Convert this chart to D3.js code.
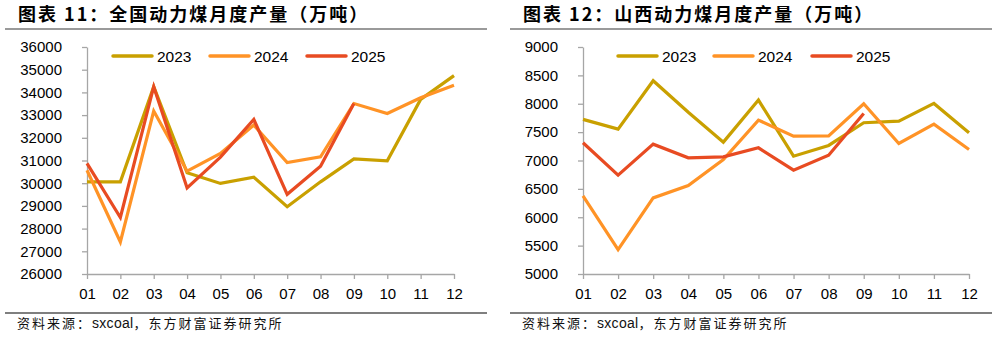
<!DOCTYPE html>
<html>
<head>
<meta charset="utf-8">
<script src="https://cdn.jsdelivr.net/npm/d3@7"></script>
<style>
  html, body { margin: 0; padding: 0; background: #fff; }
  svg { display: block; }
  .title { font-family: "Noto Sans CJK SC", sans-serif; font-weight: 700; font-size: 18px; fill: #000; }
  .source { font-family: "Noto Sans CJK SC", sans-serif; font-size: 13px; fill: #111; }
  .source .latin { font-family: "Liberation Sans", Arial, sans-serif; font-size: 14px; }
  .tick text, .legend text { font-family: "Liberation Sans", Arial, sans-serif; fill: #000; }
</style>
</head>
<body>
<svg id="chart" width="997" height="337"></svg>
<script>
// Months along the x axis
const months = ["01", "02", "03", "04", "05", "06", "07", "08", "09", "10", "11", "12"];
const seriesNames = ["2023", "2024", "2025"];
const seriesColors = ["#C9A000", "#FF9326", "#E84B22"];

// National thermal coal monthly output (10k tonnes)
const national2023 = [30060, 30060, 34250, 30460, 29990, 30260, 28960, 30060, 31070, 30990, 33690, 34740];
const national2024 = [30570, 27410, 33180, 30530, 31310, 32560, 30910, 31160, 33510, 33070, 33760, 34320];
const national2025 = [30870, 28490, 34250, 29790, 31150, 32810, 29510, 30750, 33510];
const nationalTicks = [26000, 27000, 28000, 29000, 30000, 31000, 32000, 33000, 34000, 35000, 36000];

// Shanxi thermal coal monthly output (10k tonnes)
const shanxi2023 = [7724, 7553, 8406, 7850, 7324, 8065, 7076, 7265, 7665, 7694, 8006, 7488];
const shanxi2024 = [6376, 5429, 6341, 6559, 7018, 7712, 7429, 7435, 8000, 7300, 7641, 7194];
const shanxi2025 = [7312, 6741, 7288, 7047, 7065, 7224, 6829, 7094, 7829];
const shanxiTicks = [5000, 5500, 6000, 6500, 7000, 7500, 8000, 8500, 9000];

// Source note, split so the CJK part can be spaced out
const sourceParts = [
  { text: "资料来源：", latin: false },
  { text: "sxcoal", latin: true },
  { text: "，东方财富证券研究所", latin: false }
];

const panels = [
  {
    title: "图表 11：全国动力煤月度产量（万吨）",
    left: 5, right: 487, axisX0: 87, axisX1: 454,
    series: [national2023, national2024, national2025],
    ticks: nationalTicks,
    legendX: [113, 210, 307]
  },
  {
    title: "图表 12：山西动力煤月度产量（万吨）",
    left: 510, right: 992, axisX0: 583, axisX1: 969,
    series: [shanxi2023, shanxi2024, shanxi2025],
    ticks: shanxiTicks,
    legendX: [618, 714, 812]
  }
];

const svg = d3.select("#chart");
const plotTop = 47, plotBottom = 274;

panels.forEach(p => {
  const g = svg.append("g");

  // Title and rule beneath it
  g.append("text").attr("class", "title")
    .attr("x", p.left + 13).attr("y", 21)
    .attr("letter-spacing", 2)
    .text(p.title);
  g.append("line")
    .attr("x1", p.left).attr("x2", p.right)
    .attr("y1", 29).attr("y2", 29)
    .attr("stroke", "#9a9a9a").attr("stroke-width", 2);

  // Source rule and note
  g.append("line")
    .attr("x1", p.left).attr("x2", p.right)
    .attr("y1", 313).attr("y2", 313)
    .attr("stroke", "#000").attr("stroke-width", 1.2);
  const src = g.append("text").attr("class", "source")
    .attr("x", p.left + 12).attr("y", 328);
  sourceParts.forEach(part => {
    src.append("tspan")
      .attr("class", part.latin ? "latin" : null)
      .attr("letter-spacing", part.latin ? 0.3 : 2)
      .text(part.text);
  });

  const x = d3.scalePoint().domain(months).range([p.axisX0, p.axisX1]);
  const y = d3.scaleLinear()
    .domain([p.ticks[0], p.ticks[p.ticks.length - 1]])
    .range([plotBottom, plotTop]);

  // Y axis
  const yAxis = g.append("g")
    .attr("transform", `translate(${p.axisX0},0)`)
    .call(d3.axisLeft(y).tickValues(p.ticks).tickFormat(d3.format("d"))
      .tickSizeInner(5).tickSizeOuter(0).tickPadding(20));
  yAxis.selectAll("text").attr("font-size", 15);

  // X axis
  const xAxis = g.append("g")
    .attr("transform", `translate(0,${plotBottom})`)
    .call(d3.axisBottom(x).tickSizeInner(5).tickSizeOuter(0).tickPadding(9));
  xAxis.selectAll("text").attr("font-size", 15);

  [yAxis, xAxis].forEach(a => {
    a.select(".domain").attr("stroke", "#a6a6a6").attr("stroke-width", 1.3);
    a.selectAll(".tick line").attr("stroke", "#a6a6a6").attr("stroke-width", 1.3);
  });

  // Series lines
  const line = d3.line()
    .x((d, i) => x(months[i]))
    .y(d => y(d));
  p.series.forEach((vals, si) => {
    g.append("path")
      .datum(vals)
      .attr("fill", "none")
      .attr("stroke", seriesColors[si])
      .attr("stroke-width", 3.2)
      .attr("stroke-linejoin", "miter")
      .attr("d", line);
  });

  // Legend
  const legend = g.append("g").attr("class", "legend");
  seriesNames.forEach((name, si) => {
    const lx = p.legendX[si];
    legend.append("line")
      .attr("x1", lx).attr("x2", lx + 39)
      .attr("y1", 56).attr("y2", 56)
      .attr("stroke", seriesColors[si])
      .attr("stroke-width", 3.5)
      .attr("stroke-linecap", "round");
    legend.append("text")
      .attr("x", lx + 44).attr("y", 61.5)
      .attr("font-size", 15.5)
      .text(name);
  });
});
</script>
</body>
</html>
